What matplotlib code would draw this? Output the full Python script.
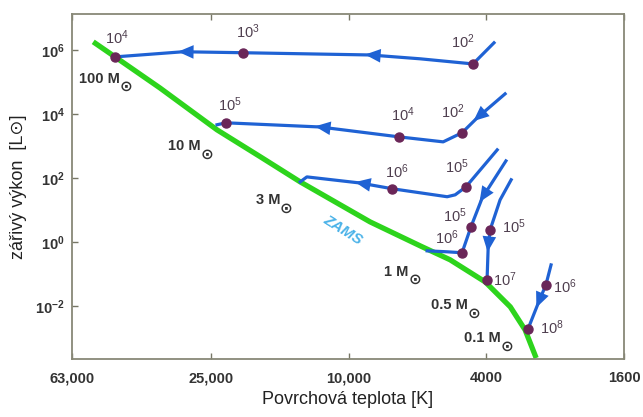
import numpy as np
import matplotlib
matplotlib.use("Agg")
import matplotlib.pyplot as plt

plt.rcParams['font.family'] = ['Liberation Sans', 'DejaVu Sans']

# --- data: temperature [K] and log10 luminosity [Lsun] ---
zams_T = [54700, 47300, 35100, 24000, 18000, 13800, 8670, 6210, 5090, 4030, 3410, 3090, 2870]
zams_logL = [6.25, 5.78, 4.81, 3.5, 2.66, 1.875, 0.625, -0.125, -0.56, -1.25, -2.03, -2.75, -3.63]

# pre-main-sequence tracks (start -> ZAMS)
tracks = {
    "100": ([3800, 4370, 6210, 8670, 20200, 30100, 47300],
            [6.22, 5.56, 5.72, 5.84, 5.91, 5.94, 5.78]),
    "10": ([3530, 4250, 4700, 5330, 7140, 12100, 22600, 24000],
           [4.625, 3.875, 3.41, 3.125, 3.28, 3.59, 3.72, 3.66]),
    "3": ([3720, 4580, 4920, 5190, 7480, 9270, 13200, 13800],
          [2.875, 1.72, 1.47, 1.41, 1.66, 1.84, 2.03, 1.875]),
    "1": ([3510, 4110, 4430, 4700, 5200, 5930],
          [2.53, 1.375, 0.47, -0.34, -0.31, -0.28]),
    "0.5": ([3390, 3650, 3900, 3950, 3980],
            [1.94, 1.31, 0.375, -0.16, -1.19]),
    "0.1": ([2600, 2690, 2830, 3030],
            [-0.72, -1.34, -1.91, -2.72]),
}
# vertex indices carrying an arrow head
arrows = {"100": [3, 5], "10": [1, 5], "3": [5], "1": [1], "0.5": [3], "0.1": [2]}

# age marks (years): T, logL, exponent, label T, label logL
age_T = [4370, 20200, 47300, 4700, 7140, 22600, 4580, 7480, 4430, 4700, 3900, 3980, 2690, 3030]
age_logL = [5.56, 5.91, 5.78, 3.41, 3.28, 3.72, 1.72, 1.66, 0.47, -0.34, 0.375, -1.19, -1.34, -2.72]
age_exp = [2, 3, 4, 2, 4, 5, 5, 6, 5, 6, 5, 7, 6, 8]
age_lab_T = [4670, 19500, 46700, 4990, 6950, 22000, 4850, 7240, 4920, 5190, 3340, 3530, 2370, 2580]
age_lab_logL = [6.25, 6.56, 6.375, 4.06, 3.97, 4.28, 2.34, 2.19, 0.81, 0.125, 0.47, -1.19, -1.41, -2.69]

mass_names = ["100", "10", "3", "1", "0.5", "0.1"]
mass_lab_T = [50600, 28700, 16500, 7000, 4920, 3950]
mass_lab_logL = [5.06, 2.94, 1.25, -0.97, -2.03, -3.06]

xticks = [63000, 25000, 10000, 4000, 1600]
xticklabels = ["63,000", "25,000", "10,000", "4000", "1600"]
yexp = [-2, 0, 2, 4, 6]

blue = "#1f62d4"
green = "#2dd41c"
dotc = "#6a2658"
numc = "#4f3f4f"

fig = plt.figure(figsize=(6.43, 4.17), dpi=100)
ax = fig.add_axes([72/643, 58/417, 552/643, 345/417])
ax.set_xscale("log")
ax.set_yscale("log")
ax.set_xlim(63000, 1600)
ax.set_ylim(10**-3.66, 10**7.12)

ax.plot(zams_T, 10**np.array(zams_logL), color=green, lw=3.8, solid_capstyle='butt',
        solid_joinstyle='round', zorder=2)

for name, (T, lL) in tracks.items():
    L = 10**np.array(lL)
    ax.plot(T, L, color=blue, lw=2.3, solid_joinstyle='round', zorder=3)
    for k in arrows[name]:
        p1 = ax.transData.transform((T[k], L[k]))
        p0 = ax.transData.transform((T[k-1], L[k-1]))
        d = (p1 - p0) / np.hypot(*(p1 - p0))
        tail = ax.transData.inverted().transform(p1 - 10*d)
        head = ax.transData.inverted().transform(p1 + 5*d)
        ax.annotate("", xy=head, xytext=tail,
                    arrowprops=dict(arrowstyle="-|>,head_length=0.8,head_width=0.35",
                                    mutation_scale=14, color=blue, lw=0,
                                    shrinkA=0, shrinkB=0),
                    zorder=4)

ax.plot(age_T, 10**np.array(age_logL), 'o', color=dotc, ms=6.5, zorder=5)
for t, l, e in zip(age_lab_T, age_lab_logL, age_exp):
    ax.text(t, 10**l, r"$\mathdefault{10^{%d}}$" % e, color=numc, fontsize=10.5,
            ha="center", va="center", zorder=6)

# mass labels: "100 M" plus a lowered sun symbol
for n, t, l in zip(mass_names, mass_lab_T, mass_lab_logL):
    txt = ax.annotate(n + " M", xy=(t, 10**l), xytext=(-4, 1), textcoords="offset points",
                      color="#333333", fontsize=10.5, fontweight="bold",
                      ha="center", va="center", zorder=6)
    ax.annotate("⊙", xy=(1, 0), xycoords=txt, xytext=(-0.5, -0.5), textcoords="offset points",
                color="#333333", fontsize=11, fontweight="bold", family="DejaVu Sans",
                ha="left", va="center", zorder=6)

ax.text(10400, 10**0.375, "ZAMS", color="#4ab2e8", fontsize=11, fontweight="bold",
        fontstyle="italic", rotation=-32, ha="center", va="center", zorder=6)

ax.set_xticks(xticks, labels=xticklabels)
ax.set_yticks([10.0**e for e in yexp], labels=[r"$\mathdefault{10^{%d}}$" % e for e in yexp])
ax.minorticks_off()
ax.tick_params(direction="in", length=4, width=1, color="#777766", top=True,
               labelsize=10.5, labelcolor="#333333", pad=5)
ax.tick_params(axis="x", pad=9)
for lab in ax.get_xticklabels() + ax.get_yticklabels():
    lab.set_fontweight("bold")
for s in ax.spines.values():
    s.set_color("#888877")
    s.set_linewidth(1.3)

ax.set_xlabel("Povrchová teplota [K]", fontsize=13, color="#222222", labelpad=4)
ax.set_ylabel("zářivý výkon  [L⊙]", fontsize=13, color="#222222", labelpad=6)

fig.savefig("out.png", dpi=100)
